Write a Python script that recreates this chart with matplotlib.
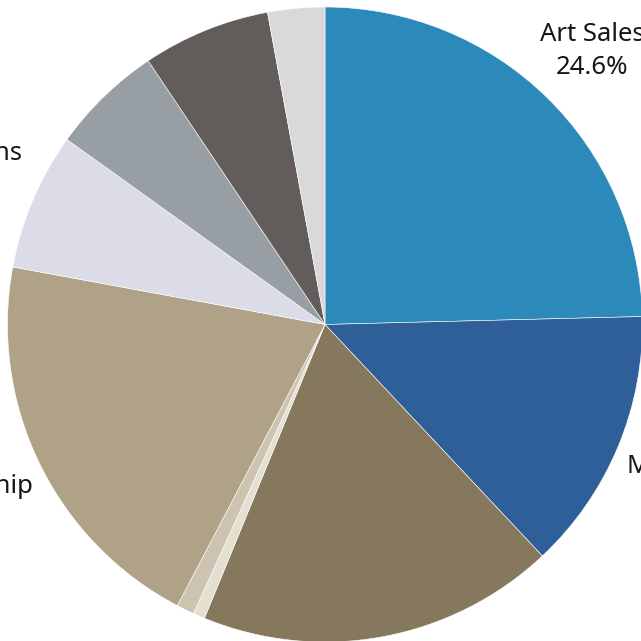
import matplotlib
matplotlib.use('Agg')
from matplotlib import pyplot as plt
import numpy as np

categories = ['Art Sales', 'Merchandise', 'Grants', 'Licensing', 'Royalties',
              'Sponsorship', 'Donations', 'Events', 'Tours', 'Other']
shares = [24.6, 13.4, 18.2, 0.6, 0.9, 20.2, 7.0, 5.7, 6.5, 2.9]
colors = ['#2b8ab9', '#2e5f99', '#85785c', '#e4dfd0', '#ccc4b0',
          '#afa286', '#dcdbe8', '#979fa5', '#625d5a', '#d9d9d9']

plt.rcParams['font.family'] = ['Noto Sans', 'DejaVu Sans']

W = 641
cx, cy, R = 325.0, 324.5, 317.5

fig = plt.figure(figsize=(W / 100, W / 100), dpi=100)
ax = fig.add_axes([0, 0, 1, 1])

wedges, _ = ax.pie(shares, colors=colors, startangle=90, counterclock=False,
                   radius=1, wedgeprops=dict(linewidth=0.4, edgecolor='white'))

ax.set_xlim(-cx / R, (W - cx) / R)
ax.set_ylim(-(W - cy) / R, cy / R)
ax.set_aspect('equal')
ax.axis('off')

renderer = fig.canvas.get_renderer()
gap = 1.04  # nearest corner of a label box sits just outside the rim

for w, name, pct in zip(wedges, categories, shares):
    if pct < 7:
        continue
    mid = np.deg2rad((w.theta1 + w.theta2) / 2)
    u = np.array([np.cos(mid), np.sin(mid)])
    t = ax.text(0, 0, name + '\n' + f'{pct:.1f}%', ha='center', va='center',
                fontsize=18.5, color='#161616', linespacing=1.4)
    bb = t.get_window_extent(renderer)
    hw, hh = bb.width / 2 / R, (bb.height / 2 - 6) / R
    s = np.array([np.sign(u[0]) * hw, np.sign(u[1]) * hh])
    us = u @ s
    d = us + np.sqrt(us ** 2 - s @ s + gap ** 2)
    t.set_position(d * u)

fig.savefig('out.png', dpi=100)
